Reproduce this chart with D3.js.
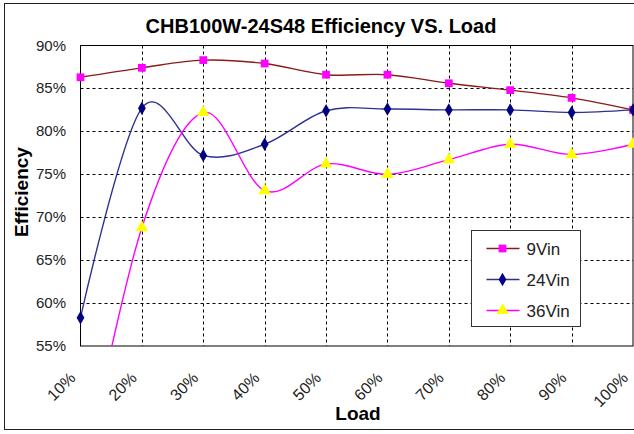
<!DOCTYPE html>
<html>
<head>
<meta charset="utf-8">
<script src="https://cdn.jsdelivr.net/npm/d3@7"></script>
<style>
  body { margin: 0; background: #fff; }
  svg { display: block; font-family: Arial, "Liberation Sans", sans-serif; }
</style>
</head>
<body>
<div id="chart"></div>
<script>
// Chart data
const loads = ['10%', '20%', '30%', '40%', '50%', '60%', '70%', '80%', '90%', '100%'];
const vin9 = [86.3, 87.4, 88.3, 87.9, 86.6, 86.6, 85.6, 84.8, 83.9, 82.5];
const vin24 = [58.3, 82.7, 77.2, 78.5, 82.4, 82.6, 82.5, 82.5, 82.2, 82.5];
const vin36 = [38.0, 68.8, 82.2, 73.1, 76.2, 75.0, 76.7, 78.5, 77.3, 78.5];
const yTicks = [55, 60, 65, 70, 75, 80, 85, 90];

const series = [
  { name: '9Vin', values: vin9, line: '#8b1a1a', marker: '#ff00ff', shape: d3.symbolSquare, size: 60 },
  { name: '24Vin', values: vin24, line: '#2e3192', marker: '#000080', shape: d3.symbolDiamond, size: 52 },
  { name: '36Vin', values: vin36, line: '#ff00ff', marker: '#ffff00', shape: d3.symbolTriangle, size: 68 }
];

const width = 634, height = 434;
const plot = { left: 80.5, top: 45.5, right: 633, bottom: 346 };

const svg = d3.select('#chart').append('svg')
  .attr('width', width)
  .attr('height', height);

// outer chart border
svg.append('rect')
  .attr('x', 4.5).attr('y', 3.5)
  .attr('width', width + 10).attr('height', 426)
  .attr('fill', '#fff')
  .attr('stroke', '#222');

const x = d3.scalePoint().domain(loads).range([plot.left, plot.right]);
const y = d3.scaleLinear().domain([55, 90]).range([plot.bottom, plot.top]);

// gridlines
const grid = svg.append('g').attr('stroke', '#000').attr('stroke-dasharray', '3,3');
grid.selectAll('.hgrid')
  .data(yTicks.slice(1, -1))
  .enter().append('line')
  .attr('x1', plot.left).attr('x2', plot.right)
  .attr('y1', d => Math.round(y(d)) + 0.5).attr('y2', d => Math.round(y(d)) + 0.5);
grid.selectAll('.vgrid')
  .data(loads.slice(1, -1))
  .enter().append('line')
  .attr('x1', d => Math.round(x(d)) + 0.5).attr('x2', d => Math.round(x(d)) + 0.5)
  .attr('y1', plot.top).attr('y2', plot.bottom);

// plot border
svg.append('rect')
  .attr('x', plot.left).attr('y', plot.top)
  .attr('width', plot.right - plot.left).attr('height', plot.bottom - plot.top)
  .attr('fill', 'none')
  .attr('stroke', '#000');

// y axis labels
svg.append('g').selectAll('text')
  .data(yTicks)
  .enter().append('text')
  .attr('x', 66)
  .attr('y', d => y(d) + 5)
  .attr('text-anchor', 'end')
  .attr('font-size', 15)
  .attr('fill', '#222')
  .text(d => d + '%');

// x axis labels
svg.append('g').selectAll('text')
  .data(loads)
  .enter().append('text')
  .attr('transform', d => `translate(${x(d) - 4},${379}) rotate(-45)`)
  .attr('text-anchor', 'end')
  .attr('font-size', 16)
  .attr('fill', '#222')
  .text(d => d);

// titles
svg.append('text')
  .attr('x', 321).attr('y', 33)
  .attr('text-anchor', 'middle')
  .attr('font-size', 20)
  .attr('font-weight', 'bold')
  .text('CHB100W-24S48 Efficiency VS. Load');

svg.append('text')
  .attr('x', 358).attr('y', 420)
  .attr('text-anchor', 'middle')
  .attr('font-size', 19)
  .attr('font-weight', 'bold')
  .text('Load');

svg.append('text')
  .attr('transform', 'translate(28,192) rotate(-90)')
  .attr('text-anchor', 'middle')
  .attr('font-size', 19)
  .attr('font-weight', 'bold')
  .text('Efficiency');

// clip for lines
svg.append('clipPath').attr('id', 'plot-clip')
  .append('rect')
  .attr('x', plot.left).attr('y', plot.top)
  .attr('width', plot.right - plot.left + 10).attr('height', plot.bottom - plot.top);

const line = d3.line()
  .x((d, i) => x(loads[i]))
  .y(d => y(d))
  .curve(d3.curveCardinal.tension(0));

const lines = svg.append('g').attr('clip-path', 'url(#plot-clip)');
series.forEach(s => {
  lines.append('path')
    .attr('d', line(s.values))
    .attr('fill', 'none')
    .attr('stroke', s.line)
    .attr('stroke-width', 1.4);
});

series.forEach(s => {
  svg.append('g').selectAll('path')
    .data(s.values.map((v, i) => ({ v, load: loads[i] })).filter(d => d.v >= 55))
    .enter().append('path')
    .attr('d', d3.symbol().type(s.shape).size(s.size))
    .attr('transform', d => `translate(${x(d.load)},${y(d.v)})`)
    .attr('fill', s.marker);
});

// legend
const legend = svg.append('g').attr('transform', 'translate(471.5,230.5)');
legend.append('rect')
  .attr('width', 109).attr('height', 96)
  .attr('fill', '#fff')
  .attr('stroke', '#333');
series.forEach((s, i) => {
  const row = legend.append('g').attr('transform', `translate(0,${18 + i * 31})`);
  row.append('line')
    .attr('x1', 15).attr('x2', 48)
    .attr('stroke', s.line)
    .attr('stroke-width', 1.4);
  row.append('path')
    .attr('d', d3.symbol().type(s.shape).size(s.size))
    .attr('transform', 'translate(31,0)')
    .attr('fill', s.marker);
  row.append('text')
    .attr('x', 55).attr('y', 6)
    .attr('font-size', 17)
    .attr('fill', '#222')
    .text(s.name);
});
</script>
</body>
</html>
